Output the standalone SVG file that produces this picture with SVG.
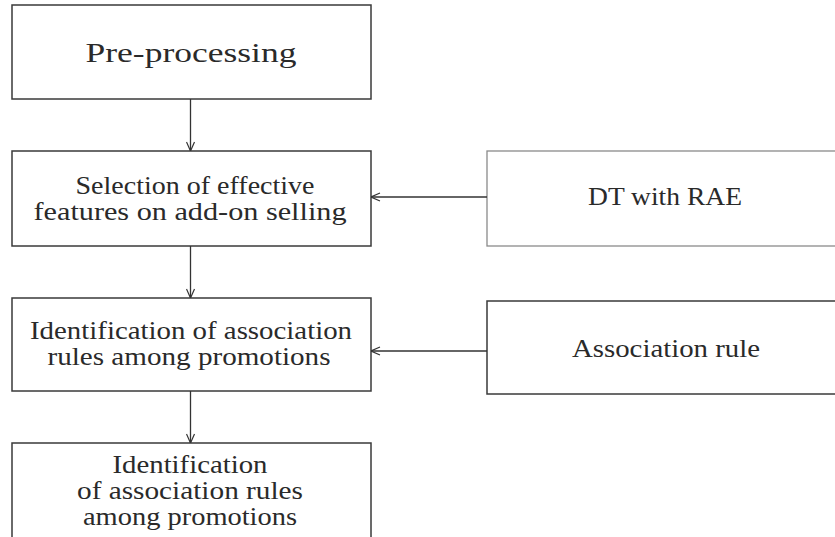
<svg xmlns="http://www.w3.org/2000/svg" width="835" height="537" viewBox="0 0 835 537">
<style>
.box{fill:#fff;stroke:#3a3a3a;stroke-width:1.5}
.box2{fill:#fff;stroke:#8a8a8a;stroke-width:1.3}
.t{font-family:"Liberation Serif","DejaVu Serif",serif;fill:#2a2a2a;text-anchor:middle}
.c{stroke:#333;stroke-width:1.3;fill:none}
</style>
<defs>
<marker id="ah" viewBox="0 0 10 10" refX="10" refY="5" markerWidth="10" markerHeight="10" markerUnits="userSpaceOnUse" orient="auto">
<path d="M1,1 L10,5 L1,9" fill="none" stroke="#333" stroke-width="1.2"/>
</marker>
</defs>
<rect width="835" height="537" fill="#fff"/>
<g id="n1"><rect class="box" x="12" y="5" width="359" height="94"/>
<text class="t" x="191" y="62" font-size="27" textLength="211" lengthAdjust="spacingAndGlyphs">Pre-processing</text></g>
<g id="n2"><rect class="box" x="12" y="151" width="359" height="95"/>
<text class="t" x="195" y="194" font-size="25" textLength="239" lengthAdjust="spacingAndGlyphs">Selection of effective</text>
<text class="t" x="190" y="220" font-size="25" textLength="313" lengthAdjust="spacingAndGlyphs">features on add-on selling</text></g>
<g id="n3"><rect class="box" x="12" y="298" width="359" height="93"/>
<text class="t" x="191" y="339" font-size="25" textLength="322" lengthAdjust="spacingAndGlyphs">Identification of association</text>
<text class="t" x="189" y="365" font-size="25" textLength="283" lengthAdjust="spacingAndGlyphs">rules among promotions</text></g>
<g id="n4"><rect class="box" x="12" y="443" width="359" height="110"/>
<text class="t" x="190" y="473" font-size="25" textLength="155" lengthAdjust="spacingAndGlyphs">Identification</text>
<text class="t" x="190" y="499" font-size="25" textLength="226" lengthAdjust="spacingAndGlyphs">of association rules</text>
<text class="t" x="190" y="525" font-size="25" textLength="214" lengthAdjust="spacingAndGlyphs">among promotions</text></g>
<g id="n5"><rect class="box2" x="487" y="151" width="360" height="95"/>
<text class="t" x="665" y="205" font-size="25" textLength="154" lengthAdjust="spacingAndGlyphs">DT with RAE</text></g>
<g id="n6"><rect class="box" x="487" y="301" width="360" height="93"/>
<text class="t" x="666" y="357" font-size="25" textLength="188" lengthAdjust="spacingAndGlyphs">Association rule</text></g>
<g id="connectors">
<line class="c" x1="190.5" y1="99" x2="190.5" y2="151" marker-end="url(#ah)"/>
<line class="c" x1="190.5" y1="246" x2="190.5" y2="298" marker-end="url(#ah)"/>
<line class="c" x1="190.5" y1="391" x2="190.5" y2="443" marker-end="url(#ah)"/>
<line class="c" x1="487" y1="197" x2="371" y2="197" marker-end="url(#ah)"/>
<line class="c" x1="487" y1="351" x2="371" y2="351" marker-end="url(#ah)"/>
</g>
</svg>
